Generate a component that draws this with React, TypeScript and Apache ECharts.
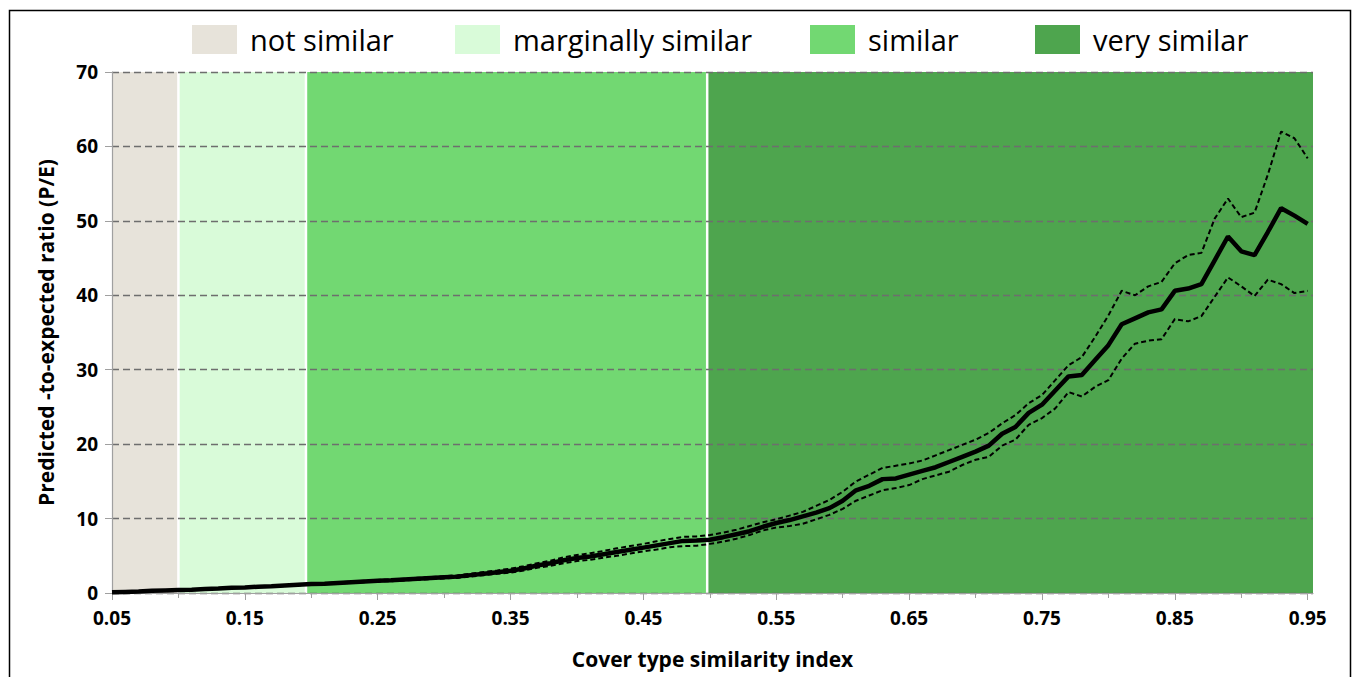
import React, { useEffect, useRef } from "react";
import * as echarts from "echarts";

// x positions (cover type similarity index, 0.05 .. 0.95 step 0.01)
const xValues: number[] = Array.from({ length: 91 }, (_, i) => +(0.05 + i * 0.01).toFixed(2));

// Predicted-to-expected ratio (P/E): mean
const meanValues: number[] = [
  0.10, 0.15, 0.20, 0.30, 0.35, 0.40, 0.45, 0.55, 0.60, 0.70,
  0.75, 0.85, 0.90, 1.00, 1.10, 1.20, 1.25, 1.35, 1.45, 1.55,
  1.65, 1.70, 1.80, 1.90, 2.00, 2.10, 2.20, 2.40, 2.60, 2.80,
  3.00, 3.30, 3.70, 4.00, 4.40, 4.70, 4.90, 5.20, 5.50, 5.80,
  6.10, 6.40, 6.70, 7.00, 7.05, 7.15, 7.5, 7.9, 8.3, 8.9,
  9.4, 9.8, 10.3, 10.8, 11.4, 12.4, 13.8, 14.4, 15.3, 15.4,
  15.9, 16.4, 16.9, 17.6, 18.3, 19.0, 19.8, 21.4, 22.3, 24.2,
  25.3, 27.2, 29.1, 29.3, 31.3, 33.3, 36.1, 36.9, 37.7, 38.1,
  40.6, 40.9, 41.5, 44.7, 47.9, 45.9, 45.4, 48.5, 51.7, 50.7,
  49.6,
];

// upper confidence bound
const upperValues: number[] = [
  0.10, 0.16, 0.22, 0.32, 0.37, 0.43, 0.48, 0.58, 0.64, 0.74,
  0.80, 0.90, 0.96, 1.06, 1.17, 1.27, 1.33, 1.43, 1.54, 1.65,
  1.76, 1.82, 1.93, 2.04, 2.15, 2.26, 2.38, 2.60, 2.82, 3.04,
  3.27, 3.60, 4.00, 4.35, 4.80, 5.10, 5.35, 5.65, 6.00, 6.30,
  6.60, 6.95, 7.25, 7.55, 7.60, 7.80, 8.1, 8.5, 9.0, 9.5,
  9.9, 10.4, 10.9, 11.7, 12.5, 13.6, 15.0, 15.9, 16.8, 17.1,
  17.4, 17.8, 18.5, 19.2, 19.9, 20.6, 21.5, 22.8, 23.9, 25.5,
  26.6, 28.6, 30.6, 31.7, 34.4, 37.3, 40.6, 40.0, 41.2, 41.8,
  44.3, 45.4, 45.7, 50.3, 53.0, 50.5, 51.1, 56.2, 62.0, 61.1,
  58.4,
];

// lower confidence bound
const lowerValues: number[] = [
  0.10, 0.14, 0.18, 0.28, 0.33, 0.37, 0.42, 0.51, 0.56, 0.66,
  0.70, 0.80, 0.84, 0.94, 1.03, 1.13, 1.17, 1.27, 1.36, 1.45,
  1.55, 1.59, 1.68, 1.77, 1.86, 1.95, 2.03, 2.22, 2.40, 2.58,
  2.75, 3.02, 3.40, 3.65, 4.00, 4.30, 4.45, 4.75, 5.00, 5.30,
  5.60, 5.85, 6.15, 6.30, 6.35, 6.60, 6.9, 7.3, 7.8, 8.4,
  8.8, 9.0, 9.3, 9.9, 10.5, 11.3, 12.4, 13.1, 13.8, 14.1,
  14.5, 15.3, 15.8, 16.3, 17.2, 17.9, 18.3, 19.8, 20.6, 22.6,
  23.5, 24.8, 27.0, 26.4, 27.7, 28.6, 31.5, 33.5, 33.9, 34.1,
  36.8, 36.5, 37.2, 39.8, 42.4, 41.2, 39.9, 42.1, 41.5, 40.3,
  40.6,
];

// similarity classes (background bands)
const regionNames: string[] = ["not similar", "marginally similar", "similar", "very similar"];
const regionStarts: number[] = [0.05, 0.1, 0.196, 0.498];
const regionEnds: number[] = [0.1, 0.196, 0.498, 0.954];

// tick labels
const majorTicks: number[] = [0.05, 0.15, 0.25, 0.35, 0.45, 0.55, 0.65, 0.75, 0.85, 0.95];
const minorTicks: number[] = [0.1, 0.2, 0.3, 0.4, 0.5, 0.6, 0.7, 0.8, 0.9];

const X_MIN = 0.05;
const X_MAX = 0.954;
const regionColors = ["#e7e3da", "#d9fbd9", "#72d872", "#4ea54e"];
const legendLefts = [192, 455, 810, 1035];
const FONT = "'Open Sans', 'Liberation Sans', sans-serif";

export default function App() {
  const ref = useRef<HTMLDivElement>(null);

  useEffect(() => {
    if (!ref.current) return;
    const chart = echarts.init(ref.current, null, { renderer: "svg" });

    const regionSeries = regionNames.map((name, i) => ({
      type: "custom",
      name,
      z: -1,
      silent: true,
      itemStyle: { color: regionColors[i] },
      encode: { x: [0, 1], y: 2 },
      data: [[regionStarts[i], regionEnds[i], i > 0 ? 1 : 0]],
      renderItem: (params: any, api: any) => {
        const cs = params.coordSys;
        const s = api.coord([api.value(0), 0]);
        const e = api.coord([api.value(1), 0]);
        const x0 = Math.max(s[0], cs.x);
        const x1 = Math.min(e[0], cs.x + cs.width);
        const children: any[] = [
          {
            type: "rect",
            shape: { x: x0, y: cs.y, width: x1 - x0, height: cs.height },
            style: { fill: regionColors[i] },
          },
        ];
        if (api.value(2)) {
          children.push({
            type: "line",
            shape: { x1: x0, y1: cs.y, x2: x0, y2: cs.y + cs.height },
            style: { stroke: "#ffffff", lineWidth: 2.5 },
          });
        }
        return { type: "group", children };
      },
    }));

    const lineData = (vals: number[]) => xValues.map((x, i) => [x, vals[i]]);

    chart.setOption({
      animation: false,
      backgroundColor: "#ffffff",
      grid: { left: 112, right: 41, top: 72, bottom: 84, containLabel: false },
      legend: regionNames.map((n, i) => ({
        data: [n],
        left: legendLefts[i],
        top: 25,
        padding: 0,
        itemWidth: 45,
        itemHeight: 29,
        icon: "rect",
        selectedMode: false,
        textStyle: { fontFamily: FONT, fontSize: 29, color: "#000", padding: [0, 0, 0, 8] },
      })),
      xAxis: [
        {
          type: "value",
          min: X_MIN,
          max: X_MAX,
          name: "Cover type similarity index",
          nameLocation: "middle",
          nameGap: 55,
          nameTextStyle: { fontFamily: FONT, fontWeight: "bold", fontSize: 21, color: "#000" },
          axisLine: { show: true, lineStyle: { color: "#a0a0a0", width: 1.2 } },
          axisTick: { show: true, length: 7, customValues: majorTicks, lineStyle: { color: "#a0a0a0" } },
          axisLabel: {
            customValues: majorTicks,
            formatter: (v: number) => v.toFixed(2),
            fontFamily: FONT,
            fontWeight: "bold",
            fontSize: 19,
            color: "#000",
            margin: 15,
          },
          splitLine: { show: false },
        },
        {
          type: "value",
          min: X_MIN,
          max: X_MAX,
          position: "bottom",
          axisLine: { show: false },
          axisTick: { show: true, length: 5, customValues: minorTicks, lineStyle: { color: "#a0a0a0" } },
          axisLabel: { show: false },
          splitLine: { show: false },
        },
      ],
      yAxis: {
        type: "value",
        min: 0,
        max: 70,
        interval: 10,
        name: "Predicted -to-expected ratio (P/E)",
        nameLocation: "middle",
        nameGap: 56,
        nameTextStyle: { fontFamily: FONT, fontWeight: "bold", fontSize: 21, color: "#000" },
        axisLine: { show: true, lineStyle: { color: "#a0a0a0", width: 1.2 } },
        axisTick: { show: true, length: 7, lineStyle: { color: "#a0a0a0" } },
        axisLabel: { fontFamily: FONT, fontWeight: "bold", fontSize: 19, color: "#000", margin: 14 },
        splitLine: { show: true, lineStyle: { color: "#6e6e6e", width: 1.4, type: [7, 4] } },
      },
      series: [
        ...regionSeries,
        {
          type: "line",
          name: "upper",
          data: lineData(upperValues),
          showSymbol: false,
          z: 4,
          lineStyle: { color: "#000", width: 2, type: [5, 3] },
          itemStyle: { color: "#000" },
        },
        {
          type: "line",
          name: "lower",
          data: lineData(lowerValues),
          showSymbol: false,
          z: 4,
          lineStyle: { color: "#000", width: 2, type: [5, 3] },
          itemStyle: { color: "#000" },
        },
        {
          type: "line",
          name: "P/E",
          data: lineData(meanValues),
          showSymbol: false,
          z: 5,
          lineStyle: { color: "#000", width: 4.5 },
          itemStyle: { color: "#000" },
        },
      ],
      graphic: [
        {
          type: "rect",
          silent: true,
          shape: { x: 9.5, y: 10.5, width: 1341, height: 700 },
          style: { fill: "none", stroke: "#000", lineWidth: 1.5 },
        },
      ],
    });

    return () => chart.dispose();
  }, []);

  return (
    <div
      ref={ref}
      style={{ position: "absolute", left: 0, top: 0, width: 1354, height: 677 }}
    />
  );
}
